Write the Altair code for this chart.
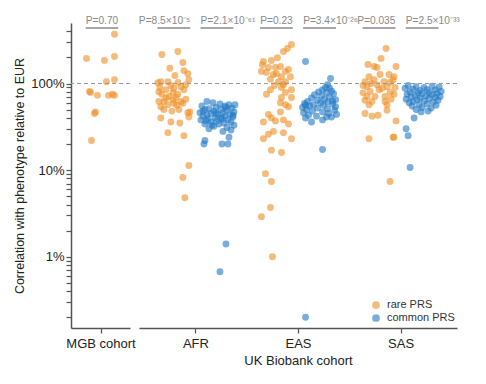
import altair as alt
import pandas as pd

FONT = "Liberation Sans"
ORANGE = "#EE8E22"
BLUE = "#1F78C4"

# ---------------- data ----------------
# values: correlation with phenotype relative to EUR (%)
# jit: horizontal scatter of each point inside its strip
mgb_rare = [370, 195, 185, 205, 105, 111, 81, 79, 73, 73, 75, 73, 47, 45, 22]
mgb_rare_jit = [14, -14, 4, 14, 6, 14, -11, -10, -3, 8, 12, 14, -5, -6, -9]

afr_rare = [216, 234, 150, 175, 141, 124, 130, 111, 105, 105, 103, 97, 90, 85, 88, 85,
            75, 71, 75, 62, 62, 65, 69, 62, 54, 57, 59, 59, 50, 48, 50, 46, 40, 36, 35,
            41, 27, 25, 47, 102, 92, 79, 11.3, 8.2, 4.8, 68, 56, 80, 95, 66]
afr_rare_jit = [-12, 4, -4, 9, 10, 1, 14, 15, -13, -6, 4, 12, -14, -8, 0, 10,
                -12, -5, 4, -15, -10, -1, 2, 7, -13, -6, 0, 9, -10, -2, 5, 14, -13, -3, 6,
                15, -6, 10, 16, -16, 7, -1, 15, 9, 11, -8, 3, -15, -3, 12]

afr_common = [62, 60, 58, 57, 55, 55, 53, 52, 51, 50, 50, 49, 48, 47, 46, 46, 45, 44, 44,
              43, 42, 42, 41, 40, 40, 39, 38, 38, 37, 36, 36, 35, 34, 34, 33, 32, 31, 30,
              29, 28, 22, 20, 20, 20, 24, 57, 1.4, 0.67, 45, 39, 43, 48, 37, 53, 33]
afr_common_jit = [-10, -4, 3, 12, -15, 8, -1, 15, -8, 4, -12, 10, -3, 17, -17, 6, -6, 13, 1,
                  -10, 8, -14, 16, -2, 4, -9, 11, -16, 0, 14, -6, 7, -12, 2, 17, -3, 10, -8,
                  14, 6, -12, -13, 5, 11, 12, 18, 9, 3, -1, 5, 16, -14, -11, 9, -5]

eas_rare = [283, 254, 234, 180, 184, 199, 153, 153, 157, 138, 138, 145, 134, 127, 120, 120,
            105, 105, 97, 85, 90, 85, 79, 69, 69, 60, 57, 54, 47, 44, 40, 38, 36, 37, 34,
            26, 28, 27, 23, 23, 17, 16, 9.1, 7.4, 3.7, 2.9, 1.0, 165, 130, 112, 95, 75]
eas_rare_jit = [15, 11, 7, -13, -5, 1, -8, -1, 4, -15, 9, 12, -10, -3, 5, 14,
                2, 9, 7, -6, 5, 15, 9, 5, 15, 4, 9, 12, 4, -8, -5, 7, -13, -1, 12,
                -8, -3, 7, -13, 15, -5, 5, -11, -5, -6, -15, -4, -14, 0, -6, -2, -10]

eas_common = [180, 114, 97, 90, 88, 85, 82, 80, 78, 76, 74, 72, 70, 68, 66, 65, 64, 62, 61,
              60, 59, 58, 57, 56, 55, 54, 53, 52, 51, 50, 49, 48, 47, 46, 45, 44, 43, 42,
              41, 40, 38, 41, 36, 17.3, 0.2, 63, 56]
eas_common_jit = [-14, 11, 8, 6, 10, 3, 12, -1, 7, 14, -5, 2, 10, -8, 5, 16, -2, -12, 8,
                  1, -15, 13, -6, 4, -10, 16, -17, -2, 8, -13, 15, -7, 3, -16, 9, 17, -11, -3,
                  12, -14, 3, 7, -8, 3, -14, 13, -14]

sas_rare = [254, 195, 166, 157, 153, 157, 120, 127, 127, 120, 105, 111, 105, 103, 92, 97,
            92, 90, 81, 85, 79, 71, 71, 71, 75, 64, 62, 62, 57, 57, 49, 45, 42, 43, 37,
            23, 24, 24, 7.4, 100, 88, 66, 78, 110, 95]
sas_rare_jit = [7, 2, -11, -5, -2, 17, -10, 1, 10, 15, -14, -5, 5, 11, -12, -2,
                8, 16, -9, 0, 11, -12, -4, 6, 15, -14, -7, 6, -10, 8, 8, -14, -7, -1, 17,
                -10, 14, 15, 11, -8, 3, 12, -16, 14, -16]

sas_common = [40, 30, 25, 10.7, 95, 92, 90, 93, 91, 88, 86, 85, 84, 83, 81, 80, 79, 78, 77,
              76, 75, 74, 73, 72, 71, 70, 69, 68, 67, 66, 65, 64, 63, 62, 61, 60, 58, 57,
              56, 55, 53, 52, 50, 48, 47]
sas_common_jit = [-8, -16, -14, -12, -14, -6, 2, 10, 17, -17, -9, 5, 13, -2, 19, -12, 7, -4, 15,
                  0, -15, 10, -7, 4, 18, -11, 13, -2, 7, -16, -5, 16, 2, -9, 11, -13, 5, -3,
                  14, -10, 0, 9, -6, 6, -1]

cohorts = ["AFR", "EAS", "SAS"]
prs_types = ["rare PRS", "common PRS"]

ukb_values = {
    ("AFR", "rare PRS"): (afr_rare, afr_rare_jit),
    ("AFR", "common PRS"): (afr_common, afr_common_jit),
    ("EAS", "rare PRS"): (eas_rare, eas_rare_jit),
    ("EAS", "common PRS"): (eas_common, eas_common_jit),
    ("SAS", "rare PRS"): (sas_rare, sas_rare_jit),
    ("SAS", "common PRS"): (sas_common, sas_common_jit),
}

mgb_p_label = ["P=0.70"]
ukb_p_labels = ["P=8.5×10⁻⁵", "P=2.1×10⁻⁶¹", "P=0.23", "P=3.4×10⁻²⁶", "P=0.035", "P=2.5×10⁻³³"]
ukb_p_align = ["right", "left", "center", "left", "right", "left"]

y_ticks = [0.2, 0.3, 0.4, 0.5, 0.6, 0.7, 0.8, 0.9, 1, 2, 3, 4, 5, 6, 7, 8, 9, 10,
           20, 30, 40, 50, 60, 70, 80, 90, 100, 200, 300, 400]

# ---------------- tables ----------------
TYPE_SHIFT = {"rare PRS": -0.21, "common PRS": 0.21}
ukb_rows = []
for ci, c in enumerate(cohorts):
    for t in prs_types:
        vals, jits = ukb_values[(c, t)]
        for v, j in zip(vals, jits):
            ukb_rows.append({"cohort": c, "prs": t, "value": v,
                             "x": ci + TYPE_SHIFT[t] + j / 102.5})
ukb_df = pd.DataFrame(ukb_rows)

mgb_df = pd.DataFrame({"prs": "rare PRS", "value": mgb_rare,
                       "x": [j / 29.5 for j in mgb_rare_jit]})

BR = 0.16
ukb_p_rows = []
k = 0
for ci, c in enumerate(cohorts):
    for t in prs_types:
        cen = ci + TYPE_SHIFT[t]
        al = ukb_p_align[k]
        anchor = cen - BR if al == "left" else (cen + BR if al == "right" else cen)
        ukb_p_rows.append({"x": cen - BR, "x2": cen + BR, "xa": anchor,
                           "label": ukb_p_labels[k], "align": al})
        k += 1
ukb_p_df = pd.DataFrame(ukb_p_rows)
mgb_p_df = pd.DataFrame({"x": [-0.5], "x2": [0.6], "xa": [0.05], "label": mgb_p_label})

ref_df = pd.DataFrame({"y": [100]})
legend_df = pd.DataFrame({"prs": prs_types})

# ---------------- encodings ----------------
yscale = alt.Scale(type="log", domain=[0.15, 500], nice=False)
color_scale = alt.Scale(domain=prs_types, range=[ORANGE, BLUE])

label_expr = "datum.value == 1 ? '1%' : datum.value == 10 ? '10%' : datum.value == 100 ? '100%' : ''"
y_axis = alt.Axis(values=y_ticks, labelExpr=label_expr, grid=False,
                  title="Correlation with phenotype relative to EUR",
                  titleFontSize=12.5, titleFontWeight="normal", titleColor="#222",
                  titlePadding=4, labelFontSize=13, labelColor="#222", labelPadding=2,
                  tickSize=5,
                  domainColor="#555", domainWidth=1.5, tickColor="#555", tickWidth=1.2,
                  labelFlush=False)
mgb_x_axis = alt.Axis(values=[0], labelExpr="'MGB cohort'", title=None, grid=False,
                      labelFontSize=13, labelColor="#222", tickSize=5,
                      domainColor="#555", domainWidth=1.5, tickColor="#555",
                      tickWidth=1.2, labelPadding=4)
ukb_x_axis = alt.Axis(values=[0, 1, 2],
                      labelExpr="datum.value == 0 ? 'AFR' : datum.value == 1 ? 'EAS' : 'SAS'",
                      title="UK Biobank cohort", titleFontSize=13, titleFontWeight="normal",
                      titleColor="#222", titlePadding=4, grid=False,
                      labelFontSize=13, labelColor="#222", tickSize=5,
                      domainColor="#555", domainWidth=1.5, tickColor="#555",
                      tickWidth=1.2, labelPadding=4)

GRAY_TXT = "#8a8a8a"
P_SIZE = 10.2

# ---------------- left panel (MGB) ----------------
mgb_xscale = alt.Scale(domain=[-1.0, 1.0], nice=False, zero=False)
mgb_points = alt.Chart(mgb_df).mark_circle(size=48, opacity=0.6, color=ORANGE).encode(
    x=alt.X("x:Q", scale=mgb_xscale, axis=mgb_x_axis),
    y=alt.Y("value:Q", scale=yscale, axis=y_axis),
)
mgb_ref = alt.Chart(ref_df).mark_rule(color="#999", strokeDash=[4, 3], strokeWidth=1.2).encode(
    y=alt.Y("y:Q", scale=yscale, axis=y_axis))
mgb_bar = alt.Chart(mgb_p_df).mark_rule(color="#888", strokeWidth=1.5).encode(
    x=alt.X("x:Q", scale=mgb_xscale, axis=mgb_x_axis), x2="x2:Q", y=alt.value(5))
mgb_txt = alt.Chart(mgb_p_df).mark_text(font=FONT, fontSize=P_SIZE, color=GRAY_TXT,
                                         baseline="bottom", align="center").encode(
    x=alt.X("xa:Q", scale=mgb_xscale, axis=mgb_x_axis), y=alt.value(3), text="label:N")

left = alt.layer(mgb_points, mgb_ref, mgb_bar, mgb_txt).properties(width=59, height=305)

# ---------------- right panel (UK Biobank) ----------------
ukb_xscale = alt.Scale(domain=[-0.55, 2.55], nice=False, zero=False)
ukb_points = alt.Chart(ukb_df).mark_circle(size=48, opacity=0.6).encode(
    x=alt.X("x:Q", scale=ukb_xscale, axis=ukb_x_axis),
    y=alt.Y("value:Q", scale=yscale, axis=None),
    color=alt.Color("prs:N", scale=color_scale, legend=None),
)
ukb_ref = alt.Chart(ref_df).mark_rule(color="#999", strokeDash=[4, 3], strokeWidth=1.2).encode(
    y=alt.Y("y:Q", scale=yscale, axis=None))
ukb_bar = alt.Chart(ukb_p_df).mark_rule(color="#888", strokeWidth=1.5).encode(
    x=alt.X("x:Q", scale=ukb_xscale, axis=ukb_x_axis), x2="x2:Q", y=alt.value(5))

txt_layers = []
for al in ["left", "center", "right"]:
    txt_layers.append(
        alt.Chart(ukb_p_df).transform_filter(alt.datum.align == al)
        .mark_text(font=FONT, fontSize=P_SIZE, color=GRAY_TXT, baseline="bottom", align=al)
        .encode(x=alt.X("xa:Q", scale=ukb_xscale, axis=ukb_x_axis), y=alt.value(3),
                text="label:N")
    )

# legend (bottom-right, inside the panel), one row per PRS type
legend_layers = []
for i, t in enumerate(prs_types):
    row_y = 282 + 13 * i
    legend_layers.append(
        alt.Chart(legend_df).transform_filter(alt.datum.prs == t)
        .mark_circle(size=60, opacity=0.6)
        .encode(x=alt.value(237), y=alt.value(row_y),
                color=alt.Color("prs:N", scale=color_scale, legend=None))
    )
    legend_layers.append(
        alt.Chart(legend_df).transform_filter(alt.datum.prs == t)
        .mark_text(font=FONT, fontSize=11, color="#333", align="left", baseline="middle")
        .encode(x=alt.value(248), y=alt.value(row_y), text="prs:N")
    )

right = (alt.layer(ukb_points, ukb_ref, ukb_bar, *txt_layers, *legend_layers)
         .properties(width=318, height=305))

chart = (
    alt.hconcat(left, right, spacing=9, bounds="flush")
    .properties(padding={"left": 5, "top": 8, "right": 5, "bottom": 5})
    .configure(font=FONT)
    .configure_view(stroke=None)
)

chart.save("out.html", embed_options={"renderer": "svg", "actions": False})
